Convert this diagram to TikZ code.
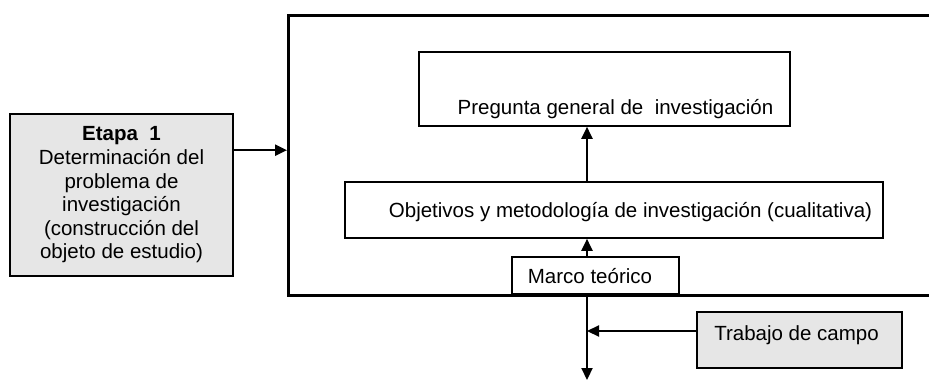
\documentclass[tikz,border=0pt]{standalone}
\usepackage{fontspec}
\setmainfont{Liberation Sans}
\usetikzlibrary{arrows.meta}
\definecolor{cajagris}{RGB}{230,230,230}

\begin{document}
\begin{tikzpicture}[x=1pt, y=-1pt,
	caja/.style={draw, line width=1.6pt, inner sep=0pt, font=\fontsize{20.5}{23.6}\selectfont},
	flecha/.style={-{Triangle[length=12pt,width=11pt]}, line width=2.2pt}]
	\useasboundingbox (0,0) rectangle (929,380);
	\node[draw, line width=3pt, minimum width=680pt, minimum height=280pt, anchor=north west] (estudio) at (287,14) {};
	\node[caja, fill=cajagris, minimum width=223pt, minimum height=162pt, align=center] (etapa) at (121.5,195) {\textbf{Etapa\ \ 1}\\Determinación del\\problema de\\investigación\\(construcción del\\objeto de estudio)};
	\node[caja, minimum width=371pt, text height=62pt, text depth=12pt] (pregunta) at (604.5,89) {\hspace*{22pt}Pregunta general de\ \ investigación};
	\node[caja, minimum width=538pt, text height=35pt, text depth=21pt] (objetivos) at (614,210) {\hspace*{33pt}Objetivos y metodología de investigación (cualitativa)};
	\node[caja, minimum width=167pt, text height=26pt, text depth=11pt] (marco) at (595.5,275.5) {Marco teórico\hspace*{11pt}};
	\node[caja, fill=cajagris, minimum width=205pt, text height=28pt, text depth=28pt] (trabajo) at (799.5,340) {Trabajo de campo\hspace*{6pt}};
	\coordinate (eje) at (587,0);
	\coordinate (salida) at (587,380);
	\draw[flecha] ([yshift=-37pt]etapa.north east) coordinate (inicio) -- (inicio -| estudio.west);
	\draw[flecha] (objetivos.north -| eje) -- (pregunta.south -| eje);
	\draw[flecha] (marco.north -| eje) -- (objetivos.south -| eje);
	\draw[flecha] (marco.south -| eje) -- (salida);
	\draw[flecha] ([yshift=9pt]trabajo.west) coordinate (campo) -- (campo -| eje);
\end{tikzpicture}
\end{document}
